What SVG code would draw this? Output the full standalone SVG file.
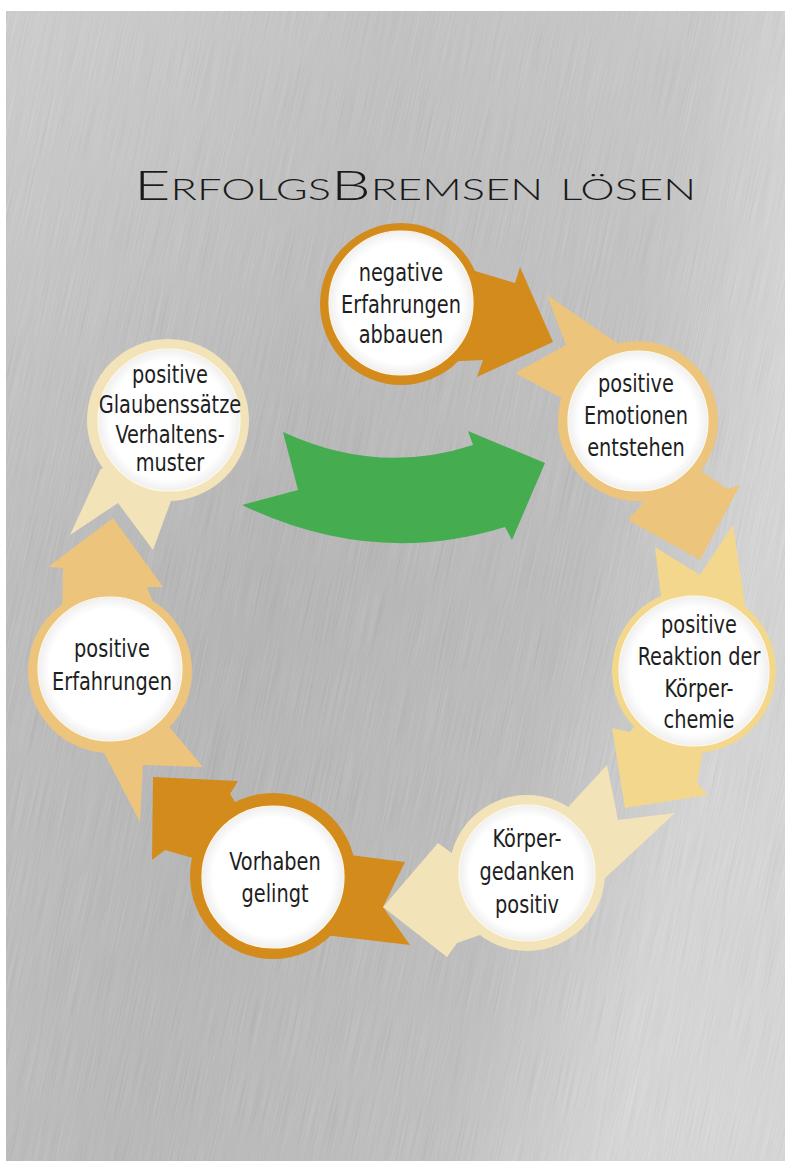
<svg xmlns="http://www.w3.org/2000/svg" width="785" height="1161" viewBox="0 0 785 1161">
<defs>
<style>
.lbl{font-family:"Liberation Sans Narrow","DejaVu Sans Condensed","Open Sans","Liberation Sans",sans-serif;font-stretch:condensed;font-size:25px;fill:#1e1e1e;text-anchor:middle}
.ttl{font-family:Lato,"Open Sans","Liberation Sans",sans-serif;font-weight:300;font-variant:small-caps;font-size:42px;fill:#1a1a1a}
.gold{fill:#d38b1c}
.orng{fill:#ecc47b}
.yell{fill:#f3d78c}
.crem{fill:#f3e3b8}
.inner{fill:url(#wg);stroke:#fff8e8;stroke-width:1.2}
</style>
<radialGradient id="wg" cx="0.5" cy="0.5" r="0.5">
<stop offset="0.84" stop-color="#ffffff"/>
<stop offset="1" stop-color="#efefef"/>
</radialGradient>
<linearGradient id="bg" x1="0" y1="0" x2="1" y2="0.35">
<stop offset="0" stop-color="#c4c4c4"/>
<stop offset="0.45" stop-color="#b4b4b4"/>
<stop offset="0.8" stop-color="#bdbdbd"/>
<stop offset="1" stop-color="#dadada"/>
</linearGradient>
<linearGradient id="bgv" x1="0" y1="0" x2="0" y2="1">
<stop offset="0" stop-color="#ffffff" stop-opacity="0.18"/>
<stop offset="0.5" stop-color="#ffffff" stop-opacity="0"/>
<stop offset="1" stop-color="#ffffff" stop-opacity="0.05"/>
</linearGradient>
<filter id="brush" x="0" y="0" width="1" height="1">
<feTurbulence type="fractalNoise" baseFrequency="0.9 0.012" numOctaves="2" seed="4"/>
<feColorMatrix type="matrix" values="0.33 0.33 0.33 0 0  0.33 0.33 0.33 0 0  0.33 0.33 0.33 0 0  0 0 0 0 1"/>
</filter>
<clipPath id="bgclip"><rect x="6" y="11" width="779" height="1150"/></clipPath>
</defs>

<g id="background">
<rect width="785" height="1161" fill="#ffffff"/>
<rect x="6" y="11" width="779" height="1150" fill="url(#bg)"/>
<g clip-path="url(#bgclip)">
<rect x="-200" y="-100" width="1200" height="1400" filter="url(#brush)" opacity="0.2" transform="rotate(12 392 580)"/>
</g>
<rect x="6" y="11" width="779" height="1150" fill="url(#bgv)"/>
</g>

<g id="title">
<text class="ttl" x="415" y="200" text-anchor="middle" textLength="562" lengthAdjust="spacingAndGlyphs">ErfolgsBremsen lösen</text>
</g>

<g id="connectors">
<path id="green-arrow" d="M283,432 Q378,476 473,445 L468,431 L545,463 L512,540 L505,527 Q373,568 242,505 L298,490 Z" fill="#45ad4f"/>
<polygon id="tail-b" class="orng" points="638,421 620,345 547,295 566,345 515,373 565,400"/>
<polygon id="arrow-a" class="gold" points="401,304 465,268 515,283 520,267 553,342 477,377 483,360 440,362"/>
<polygon id="tail-c" class="yell" points="694,671 662,605 655,547 700,575 733,525 745,605"/>
<polygon id="arrow-b" class="orng" points="638,421 650,490 643,503 628,520 700,560 740,485 727,489 700,470"/>
<polygon id="tail-d" class="crem" points="527,873 570,805 607,765 618,820 675,813 603,880"/>
<polygon id="arrow-c" class="yell" points="694,671 640,720 630,732 612,728 625,808 708,795 697,783 705,740"/>
<polygon id="tail-e" class="gold" points="273,876 350,855 405,862 383,907 410,945 325,935"/>
<polygon id="arrow-d" class="crem" points="527,873 470,850 457,857 438,843 383,907 447,957 457,943 480,935"/>
<polygon id="tail-f" class="orng" points="110,671 100,745 140,822 143,765 203,767 165,722"/>
<polygon id="arrow-e" class="gold" points="273,876 240,810 230,794 238,781 153,777 152,860 165,850 200,860"/>
<polygon id="tail-g" class="crem" points="168,420 100,470 70,535 118,503 153,550 175,490"/>
<polygon id="arrow-f" class="orng" points="110,671 62,620 63,568 48,567 113,518 163,587 147,587 160,620"/>
</g>

<g id="node-a">
<circle class="gold" cx="401" cy="304" r="81"/>
<circle class="inner" cx="401" cy="303" r="72"/>
<g transform="matrix(0.86 0 0 1 56.14 0)">
<text class="lbl" x="401" y="281">negative</text>
<text class="lbl" x="401" y="313">Erfahrungen</text>
<text class="lbl" x="401" y="343">abbauen</text>
</g>
</g>

<g id="node-b">
<circle class="orng" cx="638" cy="421" r="80"/>
<circle class="inner" cx="638" cy="421" r="70"/>
<g transform="matrix(0.86 0 0 1 89.04 0)">
<text class="lbl" x="636" y="392">positive</text>
<text class="lbl" x="636" y="424">Emotionen</text>
<text class="lbl" x="636" y="456">entstehen</text>
</g>
</g>

<g id="node-c">
<circle class="yell" cx="694" cy="671" r="82"/>
<circle class="inner" cx="694" cy="671" r="75"/>
<g transform="matrix(0.86 0 0 1 97.86 0)">
<text class="lbl" x="699" y="633">positive</text>
<text class="lbl" x="699" y="665">Reaktion der</text>
<text class="lbl" x="699" y="697">Körper-</text>
<text class="lbl" x="699" y="728">chemie</text>
</g>
</g>

<g id="node-d">
<circle class="crem" cx="527" cy="873" r="78"/>
<circle class="inner" cx="527" cy="873" r="68"/>
<g transform="matrix(0.86 0 0 1 73.78 0)">
<text class="lbl" x="527" y="847">Körper-</text>
<text class="lbl" x="527" y="880">gedanken</text>
<text class="lbl" x="527" y="913">positiv</text>
</g>
</g>

<g id="node-e">
<circle class="gold" cx="273" cy="876" r="83"/>
<circle class="inner" cx="273" cy="877" r="71"/>
<g transform="matrix(0.86 0 0 1 38.5 0)">
<text class="lbl" x="275" y="870">Vorhaben</text>
<text class="lbl" x="275" y="902">gelingt</text>
</g>
</g>

<g id="node-f">
<circle class="orng" cx="110" cy="671" r="82"/>
<circle class="inner" cx="110" cy="669" r="72"/>
<g transform="matrix(0.86 0 0 1 15.68 0)">
<text class="lbl" x="112" y="657">positive</text>
<text class="lbl" x="112" y="690">Erfahrungen</text>
</g>
</g>

<g id="node-g">
<circle class="crem" cx="168" cy="420" r="81"/>
<circle class="inner" cx="169" cy="420" r="71"/>
<g transform="matrix(0.86 0 0 1 23.8 0)">
<text class="lbl" x="170" y="383">positive</text>
<text class="lbl" x="170" y="413">Glaubenssätze</text>
<text class="lbl" x="170" y="443">Verhaltens-</text>
<text class="lbl" x="170" y="471">muster</text>
</g>
</g>
</svg>
